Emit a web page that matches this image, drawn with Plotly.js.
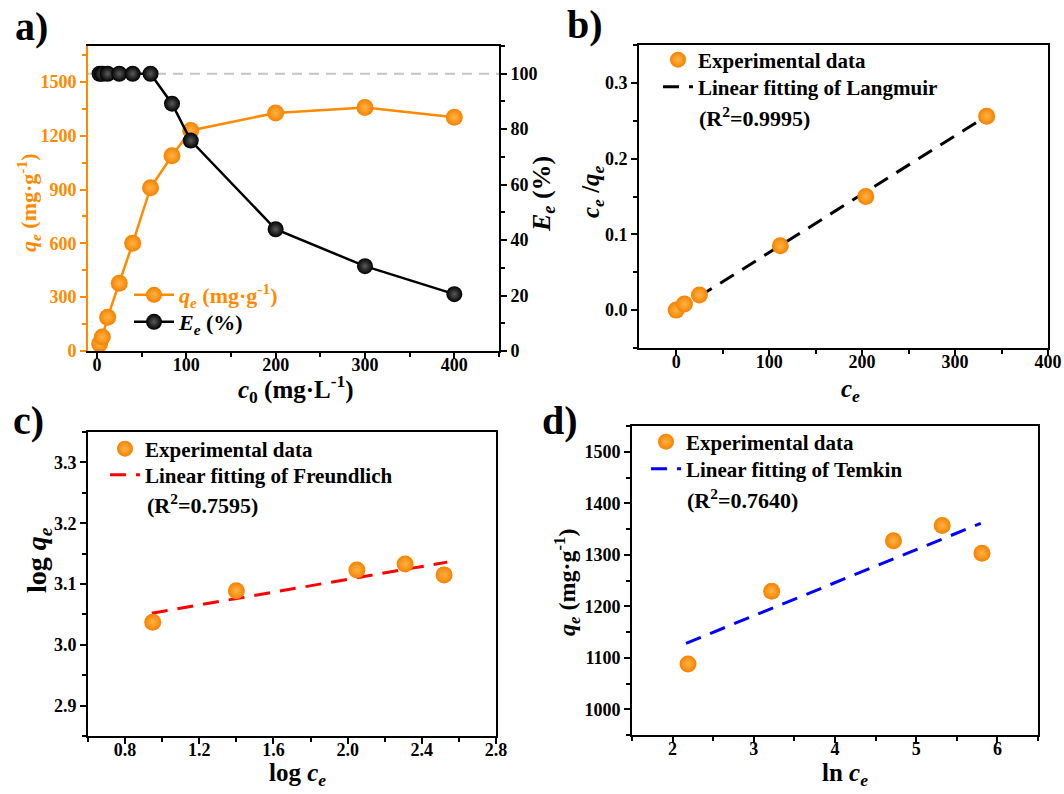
<!DOCTYPE html>
<html>
<head>
<meta charset="utf-8">
<script src="https://cdn.plot.ly/plotly-3.0.1.min.js"></script>
<style>
  html, body { margin: 0; padding: 0; background: #fff; }
  #fig { width: 1064px; height: 794px; }
</style>
</head>
<body>
<div id="fig"></div>
<script>
// (a) adsorption vs. initial concentration
const c0 = [3, 6, 12, 25, 40, 60, 84, 105, 200, 300, 400];
const qe = [40, 78, 188, 378, 600, 910, 1088, 1229, 1327, 1357, 1303];
const removal = [100, 100, 100, 100, 100, 100, 89.2, 75.9, 43.9, 30.6, 20.5];
const fullRemoval = 100;

// (b) Langmuir
const ceAll = [0, 8.9, 25, 112, 204, 334];
const ceOverQe = [0, 0.008, 0.020, 0.085, 0.150, 0.256];
const langmuirX = [0, 331];
const langmuirY = [-0.001, 0.254];

// (c) Freundlich
const logCe = [0.949, 1.40, 2.05, 2.31, 2.52];
const logQe = [3.037, 3.089, 3.123, 3.133, 3.115];
const freundlichX = [0.944, 2.537];
const freundlichY = [3.052, 3.136];

// (d) Temkin
const lnCe = [2.19, 3.22, 4.72, 5.32, 5.81];
const qeTemkin = [1088, 1229, 1327, 1357, 1303];
const temkinX = [2.165, 5.795];
const temkinY = [1128, 1361];

const W = 1064, H = 794;
const FONT = '"Liberation Serif", "Times New Roman", serif';
const ORANGE = '#FF8A00';
const px = v => v / W;
const py = v => 1 - v / H;

const orangeBall = { color: '#F58200', size: 17, line: { width: 0 },
                     gradient: { type: 'radial', color: '#FFB347' } };
const blackBall = { color: '#000000', size: 16, line: { width: 0 },
                    gradient: { type: 'radial', color: '#5A5A5A' } };

// fits are listed first so the points sit on top; every legend row is its own legend
const data = [
  { x: c0, y: qe, xaxis: 'x', yaxis: 'y', mode: 'lines+markers',
    name: '<span style="color:' + ORANGE + '"><i>q</i><sub><i>e</i></sub> (mg·g<sup>-1</sup>)</span>',
    line: { color: ORANGE, width: 2.5 }, marker: orangeBall, legend: 'legend' },
  { x: c0, y: removal, xaxis: 'x', yaxis: 'y2', mode: 'lines+markers',
    name: '<i>E</i><sub><i>e</i></sub> (%)',
    line: { color: '#000', width: 2.5 }, marker: blackBall, legend: 'legend2' },

  { x: langmuirX, y: langmuirY, xaxis: 'x3', yaxis: 'y3', mode: 'lines',
    name: 'Linear fitting of Langmuir',
    line: { color: '#000', width: 3, dash: '16px,10px' }, legend: 'legend4' },
  { x: ceAll, y: ceOverQe, xaxis: 'x3', yaxis: 'y3', mode: 'markers',
    name: 'Experimental data', marker: orangeBall, legend: 'legend3' },

  { x: freundlichX, y: freundlichY, xaxis: 'x4', yaxis: 'y4', mode: 'lines',
    name: 'Linear fitting of Freundlich',
    line: { color: '#FF0000', width: 3, dash: '16px,10px' }, legend: 'legend6' },
  { x: logCe, y: logQe, xaxis: 'x4', yaxis: 'y4', mode: 'markers',
    name: 'Experimental data', marker: orangeBall, legend: 'legend5' },

  { x: temkinX, y: temkinY, xaxis: 'x5', yaxis: 'y5', mode: 'lines',
    name: 'Linear fitting of Temkin',
    line: { color: '#0000FF', width: 3, dash: '16px,10px' }, legend: 'legend8' },
  { x: lnCe, y: qeTemkin, xaxis: 'x5', yaxis: 'y5', mode: 'markers',
    name: 'Experimental data', marker: orangeBall, legend: 'legend7' }
];

function tickFont(color) {
  return { family: FONT, size: 18, color: color || '#000', weight: 'bold' };
}

function axis(opts) {
  return Object.assign({
    showgrid: false, zeroline: false, showline: true, linecolor: '#000', linewidth: 2,
    ticks: 'outside', ticklen: 6, tickwidth: 2, tickcolor: '#000',
    tickfont: tickFont(), automargin: false, fixedrange: true,
  }, opts);
}
function minor(d, color) {
  return { dtick: d, ticks: 'outside', ticklen: 4, tickwidth: 2, tickcolor: color || '#000', showgrid: false };
}

// one-row legend: x = left edge of the symbol slot, y = row centre (pixels)
function legendAt(x, y, size) {
  return { x: px(x), y: py(y), xanchor: 'left', yanchor: 'middle', xref: 'paper', yref: 'paper',
           bgcolor: 'rgba(0,0,0,0)', borderwidth: 0,
           font: { family: FONT, size: size, color: '#000', weight: 'bold' },
           itemclick: false, itemdoubleclick: false };
}

function label(text, x, y, size, extra) {
  return Object.assign({ text: text, x: px(x), y: py(y), xref: 'paper', yref: 'paper',
    showarrow: false, xanchor: 'center', yanchor: 'middle',
    font: { family: FONT, size: size, color: '#000', weight: 'bold' } }, extra || {});
}

const layout = {
  width: W, height: H,
  margin: { l: 0, r: 0, t: 0, b: 0 },
  paper_bgcolor: '#fff', plot_bgcolor: '#fff',
  font: { family: FONT, size: 18, color: '#000', weight: 'bold' },
  showlegend: true,

  // (a)
  xaxis: axis({ domain: [px(88), px(499)], range: [-10, 450], dtick: 100, tick0: 0,
                mirror: true, minor: minor(50), anchor: 'y', ticklabelstandoff: -10 }),
  yaxis: axis({ domain: [py(351), py(46)], range: [0, 1700], dtick: 300, tick0: 0,
                linecolor: ORANGE, tickcolor: ORANGE, minor: minor(150, ORANGE),
                tickfont: tickFont(ORANGE), anchor: 'x' }),
  yaxis2: axis({ domain: [py(351), py(46)], range: [0, 110], dtick: 20, tick0: 0,
                 overlaying: 'y', side: 'right', anchor: 'x', minor: minor(10) }),

  // (b)
  xaxis3: axis({ domain: [px(639), px(1048)], range: [-40, 400], dtick: 100, tick0: 0,
                 mirror: true, minor: minor(50), anchor: 'y3', ticklabelstandoff: -10 }),
  yaxis3: axis({ domain: [py(348), py(45)], range: [-0.05, 0.35], dtick: 0.1, tick0: 0,
                 tickformat: '.1f', mirror: true, minor: minor(0.05), anchor: 'x3' }),

  // (c)
  xaxis4: axis({ domain: [px(88), px(496)], range: [0.6, 2.8], dtick: 0.4, tick0: 0.8,
                 tickformat: '.1f', mirror: true, minor: minor(0.2), anchor: 'y4', ticklabelstandoff: -10 }),
  yaxis4: axis({ domain: [py(736), py(432)], range: [2.85, 3.35], dtick: 0.1, tick0: 2.9,
                 tickformat: '.1f', mirror: true, minor: minor(0.05), anchor: 'x4' }),

  // (d)
  xaxis5: axis({ domain: [px(632), px(1038)], range: [1.5, 6.5], dtick: 1, tick0: 2,
                 mirror: true, minor: minor(0.5), anchor: 'y5', ticklabelstandoff: -10 }),
  yaxis5: axis({ domain: [py(735), py(426)], range: [950, 1550], dtick: 100, tick0: 1000,
                 mirror: true, minor: minor(50), anchor: 'x5' }),

  legend: Object.assign(legendAt(129, 295, 22), { itemwidth: 40 }),
  legend2: Object.assign(legendAt(129, 322, 22), { itemwidth: 40 }),
  legend3: legendAt(658, 60, 21),
  legend4: legendAt(658, 87, 21),
  legend5: legendAt(105, 449, 21),
  legend6: legendAt(105, 475, 21),
  legend7: legendAt(646, 442, 21),
  legend8: legendAt(646, 469, 21),

  shapes: [
    { type: 'line', xref: 'x domain', yref: 'y2', x0: 0, x1: 1, y0: fullRemoval, y1: fullRemoval,
      line: { color: '#C4C4C4', width: 2, dash: '10px,7px' }, layer: 'below' }
  ],

  annotations: [
    label('a)', 31, 26, 40),
    label('b)', 585, 25, 40),
    label('c)', 28, 420, 40),
    label('d)', 560, 420, 40),

    label('<i>c</i><sub>0</sub> (mg·L<sup>-1</sup>)', 296, 389, 25),
    label('<i>q</i><sub><i>e</i></sub> (mg·g<sup>-1</sup>)', 28, 203, 22,
          { textangle: -90, font: { family: FONT, size: 22, color: ORANGE, weight: 'bold' } }),
    label('<i>E</i><sub><i>e</i></sub> (%)', 543, 194, 26, { textangle: -90 }),

    label('<i>c</i><sub><i>e</i></sub> /<i>q</i><sub><i>e</i></sub>', 592, 192, 25, { textangle: -90 }),
    label('<i>c</i><sub><i>e</i></sub>', 850, 390, 25),
    label('(R<sup>2</sup>=0.9995)', 697, 117, 22, { xanchor: 'left' }),

    label('log <i>q</i><sub><i>e</i></sub>', 38, 560, 28, { textangle: -90 }),
    label('log <i>c</i><sub><i>e</i></sub>', 297, 774, 25),
    label('(R<sup>2</sup>=0.7595)', 145, 504, 22, { xanchor: 'left' }),

    label('<i>q</i><sub><i>e</i></sub> (mg·g<sup>-1</sup>)', 567, 583, 24, { textangle: -90 }),
    label('ln <i>c</i><sub><i>e</i></sub>', 845, 774, 25),
    label('(R<sup>2</sup>=0.7640)', 685, 499, 22, { xanchor: 'left' })
  ]
};

Plotly.newPlot('fig', data, layout, { staticPlot: true, displayModeBar: false });
</script>
</body>
</html>
